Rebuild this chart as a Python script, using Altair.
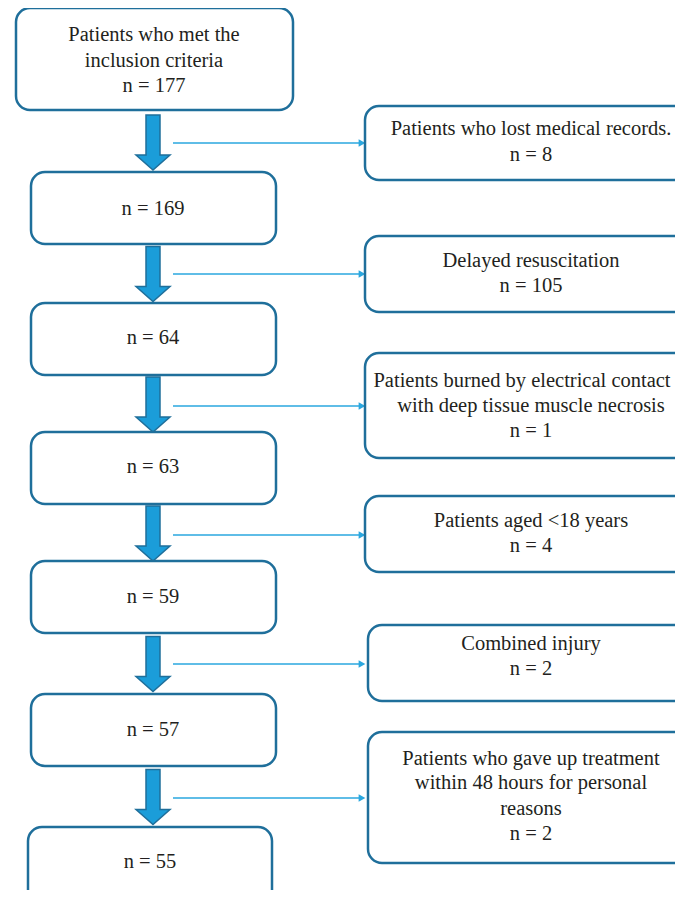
import altair as alt
import pandas as pd

# ---- content ----
left_labels = [
    ["Patients who met the", "inclusion criteria", "n = 177"],
    ["n = 169"],
    ["n = 64"],
    ["n = 63"],
    ["n = 59"],
    ["n = 57"],
    ["n = 55"],
]
right_labels = [
    ["Patients who lost medical records.", "n = 8"],
    ["Delayed resuscitation", "n = 105"],
    ["Patients burned by electrical contact", "with deep tissue muscle necrosis", "n = 1"],
    ["Patients aged <18 years", "n = 4"],
    ["Combined injury", "n = 2"],
    ["Patients who gave up treatment", "within 48 hours for personal", "reasons", "n = 2"],
]

# ---- layout (pixel positions in the 683x898 picture) ----
left_boxes = [(16, 8, 293, 110), (31, 172, 276, 244), (31, 303, 276, 375), (31, 432, 276, 504),
              (31, 561, 276, 633), (31, 694, 276, 766), (28, 827, 272, 905)]
left_text_y = [[35, 61, 86], [209], [338], [467], [597], [730], [862]]
left_text_x = [154, 153, 153, 153, 153, 153, 150]
right_boxes = [(365, 106, 700, 180), (365, 236, 700, 312), (365, 353, 700, 458),
               (365, 496, 700, 572), (368, 625, 700, 701), (368, 732, 700, 863)]
right_text_y = [[129, 155], [261, 286], [381, 406, 431], [521, 546], [644, 669], [759, 783, 809, 834]]
right_text_x = [[531, 531], [531, 531], [522, 531, 531], [531, 531], [531, 531], [531, 531, 531, 531]]
block_arrow_y = [142.5, 274, 404.5, 533.5, 664, 797]
block_arrow_x = 153
thin_arrow_y = [143, 274, 406, 535, 664, 798]
thin_x0, thin_x1 = 173, 366

W, H = 667, 882
xs = alt.Scale(domain=[8, 8 + W], range=[0, W], nice=False, zero=False)
ys = alt.Scale(domain=[8, 8 + H], range=[0, H], nice=False, zero=False)

boxes = pd.DataFrame([dict(x1=a, y1=b, x2=c, y2=d) for (a, b, c, d) in left_boxes + right_boxes])

texts = []
for lines, yl, xc in zip(left_labels, left_text_y, left_text_x):
    for t, y in zip(lines, yl):
        texts.append(dict(x=xc, y=y, t=t))
for lines, yl, xl in zip(right_labels, right_text_y, right_text_x):
    for t, y, x in zip(lines, yl, xl):
        texts.append(dict(x=x, y=y, t=t))
texts = pd.DataFrame(texts)

blocks = pd.DataFrame(dict(x=[block_arrow_x] * len(block_arrow_y), y=block_arrow_y))
thin = pd.DataFrame(dict(x=[thin_x0] * len(thin_arrow_y), x2=[thin_x1 - 6] * len(thin_arrow_y), y=thin_arrow_y))
heads = pd.DataFrame(dict(x=[thin_x1 - 4] * len(thin_arrow_y), y=thin_arrow_y))

X = lambda f: alt.X(f, type="quantitative", scale=xs, axis=None)
Y = lambda f: alt.Y(f, type="quantitative", scale=ys, axis=None)

box_layer = alt.Chart(boxes).mark_rect(
    fill="white", stroke="#1f6f9b", strokeWidth=2.5, cornerRadius=14, clip=True
).encode(x=X("x1"), x2="x2", y=Y("y1"), y2="y2")

text_layer = alt.Chart(texts).mark_text(
    font="Liberation Serif", fontSize=20.5, color="#231f20", baseline="middle", align="center", clip=True
).encode(x=X("x"), y=Y("y"), text="t")

arrow_path = ("M -0.2545 -1 L 0.2545 -1 L 0.2545 0.4545 L 0.618 0.4545 L 0 1 "
              "L -0.618 0.4545 L -0.2545 0.4545 Z")
block_layer = alt.Chart(blocks).mark_point(
    shape=arrow_path, size=3025, filled=True, fill="#1b9dd9", stroke="#1f6f9b", strokeWidth=1.5, opacity=1
).encode(x=X("x"), y=Y("y"))

thin_layer = alt.Chart(thin).mark_rule(color="#2aa7df", strokeWidth=1.5).encode(
    x=X("x"), x2="x2", y=Y("y"))
head_layer = alt.Chart(heads).mark_point(
    shape="triangle-right", size=60, filled=True, color="#2aa7df", opacity=1
).encode(x=X("x"), y=Y("y"))

chart = alt.layer(thin_layer, head_layer, block_layer, box_layer, text_layer).properties(
    width=W, height=H, padding=0
).configure_view(stroke=None)

chart.save("out.html", embed_options={"renderer": "svg", "actions": False})
